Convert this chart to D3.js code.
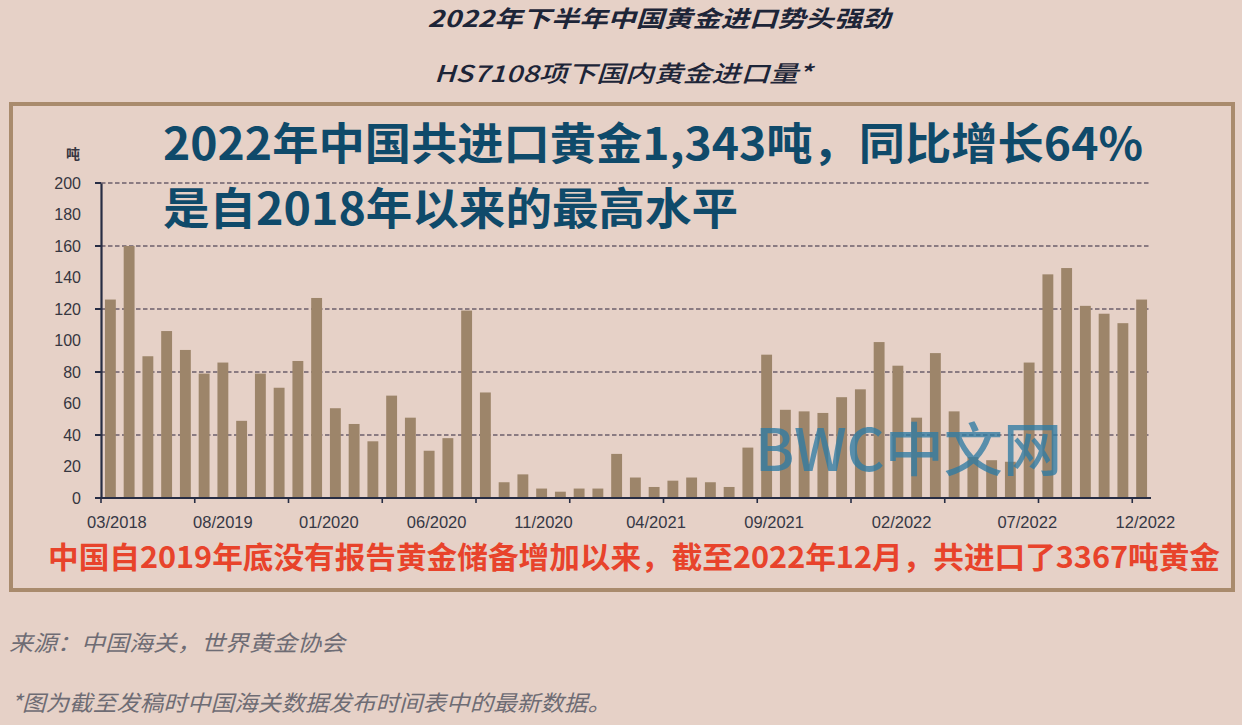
<!DOCTYPE html>
<html>
<head>
<meta charset="utf-8">
<script src="https://cdn.jsdelivr.net/npm/d3@7"></script>
<style>
  html, body { margin: 0; padding: 0; background: #e6d1c7; }
  svg { display: block; }
</style>
</head>
<body>
<svg id="chart" width="1242" height="725"></svg>
<script>
// ---- data ----
const months = [];
(function(){ for (let y = 2018; y <= 2022; y++) for (let m = 1; m <= 12; m++) { if (y === 2018 && m < 5) continue; months.push(String(m).padStart(2,"0") + "/" + y); } })();
const imports = [126,160,90,106,94,79,86,49,79,70,87,127,57,47,36,65,51,30,38,119,67,10,15,6,4,6,6,28,13,7,11,13,10,7,32,91,56,55,54,64,69,99,84,51,92,55,26,24,23,86,142,146,122,117,111,126];
const xTickLabels = ["03/2018","08/2019","01/2020","06/2020","11/2020","04/2021","09/2021","02/2022","07/2022","12/2022"];
const xTickAt = [0.35, 6.0, 11.65, 17.4, 23.1, 29.1, 35.4, 42.2, 48.9, 55.2];
const yTickValues = [0,20,40,60,80,100,120,140,160,180,200];
const yGridValues = [40,80,120,160,200];

const titleText = "2022年下半年中国黄金进口势头强劲";
const subtitleText = "HS7108项下国内黄金进口量*";
const headline1 = "2022年中国共进口黄金1,343吨，同比增长64%";
const headline2 = "是自2018年以来的最高水平";
const noteRed = "中国自2019年底没有报告黄金储备增加以来，截至2022年12月，共进口了3367吨黄金";
const source = "来源：中国海关，世界黄金协会";
const footnote = "*图为截至发稿时中国海关数据发布时间表中的最新数据。";
const unit = "吨";
const watermark = "BWC中文网";

// ---- drawing ----
const svg = d3.select("#chart");
const CJK = "'Noto Sans CJK SC','Noto Sans',sans-serif";
const LAT = "'Liberation Sans',Arial,sans-serif";

svg.append("rect").attr("width",1242).attr("height",725).attr("fill","#e6d1c7");

// titles
svg.append("text").attr("x",659).attr("y",27).attr("text-anchor","middle")
  .attr("font-family",CJK).attr("font-weight","bold").attr("font-style","italic")
  .attr("font-size",23).attr("fill","#1d2538").attr("textLength",463).attr("lengthAdjust","spacingAndGlyphs")
  .text(titleText);
svg.append("text").attr("x",623).attr("y",82).attr("text-anchor","middle")
  .attr("font-family",CJK).attr("font-style","italic").attr("font-weight","500")
  .attr("font-size",23).attr("fill","#1d2538").attr("textLength",378).attr("lengthAdjust","spacingAndGlyphs")
  .text(subtitleText);

// frame
svg.append("rect").attr("x",11).attr("y",104).attr("width",1222).attr("height",486)
  .attr("fill","none").attr("stroke","#a98b6d").attr("stroke-width",4);

const x = d3.scaleBand().domain(months).range([101,1151]).paddingInner(0.42).paddingOuter(0.21);
const y = d3.scaleLinear().domain([0,200]).range([498,183]);
const step = x.step();
const idx = d3.scaleLinear().domain([0, months.length-1])
  .range([x(months[0]) + x.bandwidth()/2, x(months[months.length-1]) + x.bandwidth()/2]);

// grid
svg.append("g").selectAll("line").data(yGridValues).join("line")
  .attr("x1",101).attr("x2",1151).attr("y1",d=>y(d)).attr("y2",d=>y(d))
  .attr("stroke","#8a7b82").attr("stroke-width",2).attr("stroke-dasharray","4.5,2.5");

// bars
svg.append("g").selectAll("rect").data(imports).join("rect")
  .attr("x",(d,i)=>x(months[i])).attr("width",x.bandwidth())
  .attr("y",d=>y(d)).attr("height",d=>y(0)-y(d))
  .attr("fill","#9d856a");

// y axis
const yAxis = d3.axisLeft(y).tickValues(yTickValues).tickSize(0).tickPadding(20).tickFormat(d3.format("d"));
const gy = svg.append("g").attr("transform","translate(101,0)").call(yAxis);
gy.select(".domain").attr("stroke","#272d44").attr("stroke-width",2.2);
gy.selectAll("text").attr("font-family",LAT).attr("font-size",16).attr("fill","#363640");
gy.selectAll(".tick line").remove();
svg.append("g").selectAll("line").data([0].concat(yGridValues)).join("line")
  .attr("x1",95).attr("x2",101).attr("y1",d=>y(d)).attr("y2",d=>y(d))
  .attr("stroke","#272d44").attr("stroke-width",2);

// x axis line and ticks
svg.append("line").attr("x1",100).attr("x2",1151).attr("y1",y(0)).attr("y2",y(0))
  .attr("stroke","#272d44").attr("stroke-width",2.2);
const tickIdx = d3.range(0, months.length, 5);
svg.append("g").selectAll("line").data(tickIdx).join("line")
  .attr("x1",d=>x(months[d]) - (step - x.bandwidth())/2).attr("x2",d=>x(months[d]) - (step - x.bandwidth())/2)
  .attr("y1",y(0)).attr("y2",y(0)+5)
  .attr("stroke","#272d44").attr("stroke-width",1.6);
svg.append("g").selectAll("text").data(xTickLabels).join("text")
  .attr("x",(d,i)=>idx(xTickAt[i])).attr("y",528).attr("text-anchor","middle")
  .attr("font-family",LAT).attr("font-size",16.5).attr("fill","#363845")
  .text(d=>d);

// unit
svg.append("text").attr("x",73).attr("y",159).attr("text-anchor","middle")
  .attr("font-family",CJK).attr("font-weight","bold").attr("font-size",14).attr("fill","#363640").text(unit);

// headline
svg.append("text").attr("x",163).attr("y",160)
  .attr("font-family",CJK).attr("font-weight","bold").attr("font-size",44).attr("fill","#0f4a6a")
  .attr("textLength",980).attr("lengthAdjust","spacingAndGlyphs").text(headline1);
svg.append("text").attr("x",163).attr("y",225)
  .attr("font-family",CJK).attr("font-weight","bold").attr("font-size",44).attr("fill","#0f4a6a")
  .attr("textLength",575).attr("lengthAdjust","spacingAndGlyphs").text(headline2);

// watermark
svg.append("text").attr("x",755).attr("y",471)
  .attr("font-family",CJK).attr("font-weight","500").attr("font-size",58).attr("fill","#2f7ba3").attr("fill-opacity",0.78)
  .attr("textLength",307).attr("lengthAdjust","spacingAndGlyphs").text(watermark);

// red note
svg.append("text").attr("x",48).attr("y",568)
  .attr("font-family",CJK).attr("font-weight","bold").attr("font-size",30).attr("fill","#e8432b")
  .attr("textLength",1172).attr("lengthAdjust","spacingAndGlyphs").text(noteRed);

// footer
svg.append("text").attr("x",9).attr("y",651)
  .attr("font-family",CJK).attr("font-style","italic").attr("font-size",22).attr("fill","#6e6c74")
  .attr("textLength",336).attr("lengthAdjust","spacingAndGlyphs").text(source);
svg.append("text").attr("x",11).attr("y",711)
  .attr("font-family",CJK).attr("font-style","italic").attr("font-size",22).attr("fill","#6e6c74")
  .attr("textLength",600).attr("lengthAdjust","spacingAndGlyphs").text(footnote);
</script>
</body>
</html>
